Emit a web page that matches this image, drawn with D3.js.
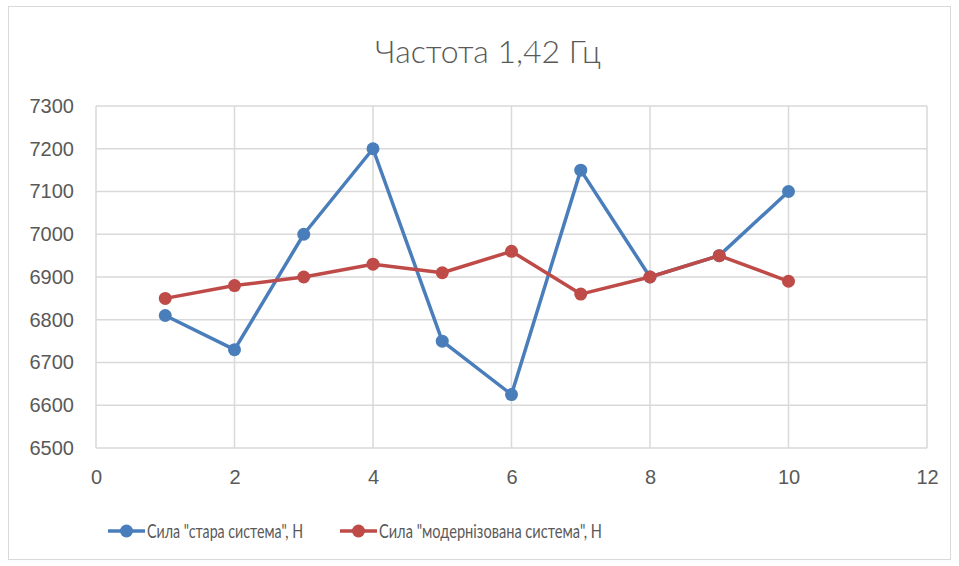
<!DOCTYPE html>
<html>
<head>
<meta charset="utf-8">
<script src="https://cdn.jsdelivr.net/npm/d3@7"></script>
<style>
  body { margin: 0; background: #fff; }
  svg { font-family: Lato, "Open Sans", sans-serif; }
</style>
</head>
<body>
<div id="chart"></div>
<script>
const titleText = "Частота 1,42 Гц";
const xs = [1, 2, 3, 4, 5, 6, 7, 8, 9, 10];
const oldSystem = [6810, 6730, 7000, 7200, 6750, 6625, 7150, 6900, 6950, 7100];
const newSystem = [6850, 6880, 6900, 6930, 6910, 6960, 6860, 6900, 6950, 6890];
const xTicks = [0, 2, 4, 6, 8, 10, 12];
const yTicks = [6500, 6600, 6700, 6800, 6900, 7000, 7100, 7200, 7300];
const seriesNames = ["Сила \"стара система\", Н", "Сила \"модернізована система\", Н"];

const width = 959, height = 566;
const m = { t: 106, r: 32, b: 118, l: 96 };

const svg = d3.select("#chart").append("svg")
  .attr("width", width)
  .attr("height", height);

svg.append("rect")
  .attr("x", 8.5).attr("y", 6.5)
  .attr("width", width - 17).attr("height", height - 13)
  .attr("fill", "#fff").attr("stroke", "#d9d9d9");

const x = d3.scaleLinear().domain([0, 12]).range([m.l, width - m.r]);
const y = d3.scaleLinear().domain([6500, 7300]).range([height - m.b, m.t]);

// grid
svg.append("g").selectAll("line").data(yTicks).enter().append("line")
  .attr("x1", x(0)).attr("x2", x(12))
  .attr("y1", d => y(d)).attr("y2", d => y(d))
  .attr("stroke", "#d9d9d9").attr("stroke-width", 1.5);
svg.append("g").selectAll("line").data(xTicks).enter().append("line")
  .attr("x1", d => x(d)).attr("x2", d => x(d))
  .attr("y1", y(6500)).attr("y2", y(7300))
  .attr("stroke", "#d9d9d9").attr("stroke-width", 1.5);

// axis labels
const xAxis = svg.append("g")
  .attr("transform", `translate(0,${y(6500)})`)
  .call(d3.axisBottom(x).tickValues(xTicks).tickFormat(d3.format("d")).tickSize(0).tickPadding(22));
xAxis.select(".domain").remove();
xAxis.selectAll("text").attr("font-size", "20px").attr("fill", "#595959");

const yAxis = svg.append("g")
  .attr("transform", `translate(${x(0)},0)`)
  .call(d3.axisLeft(y).tickValues(yTicks).tickFormat(d3.format("d")).tickSize(0).tickPadding(22));
yAxis.select(".domain").remove();
yAxis.selectAll("text").attr("font-size", "20px").attr("fill", "#595959");

svg.append("text")
  .attr("x", 488).attr("y", 63)
  .attr("text-anchor", "middle")
  .attr("font-size", "32px")
  .attr("font-weight", 300)
  .attr("fill", "#595959")
  .text(titleText);

const series = [
  { v: oldSystem, c: "#4a7ebb", name: seriesNames[0], w: 156 },
  { v: newSystem, c: "#be4b48", name: seriesNames[1], w: 223 },
];

const line = d3.line().x((d, i) => x(xs[i])).y(d => y(d));

series.forEach(s => {
  svg.append("path")
    .datum(s.v)
    .attr("fill", "none")
    .attr("stroke", s.c)
    .attr("stroke-width", 3.5)
    .attr("stroke-linejoin", "round")
    .attr("d", line);
  svg.append("g").selectAll("circle").data(s.v).enter().append("circle")
    .attr("cx", (d, i) => x(xs[i]))
    .attr("cy", d => y(d))
    .attr("r", 6.5)
    .attr("fill", s.c);
});

// legend
const legendPos = [108, 340];
series.forEach((s, i) => {
  const lx = legendPos[i], ly = 531;
  svg.append("line")
    .attr("x1", lx).attr("x2", lx + 37)
    .attr("y1", ly).attr("y2", ly)
    .attr("stroke", s.c).attr("stroke-width", 3.5);
  svg.append("circle")
    .attr("cx", lx + 18.5).attr("cy", ly).attr("r", 6.5).attr("fill", s.c);
  svg.append("text")
    .attr("x", lx + 39).attr("y", ly + 7)
    .attr("font-size", "19px")
    .attr("textLength", s.w)
    .attr("lengthAdjust", "spacingAndGlyphs")
    .attr("fill", "#595959")
    .text(s.name);
});
</script>
</body>
</html>
